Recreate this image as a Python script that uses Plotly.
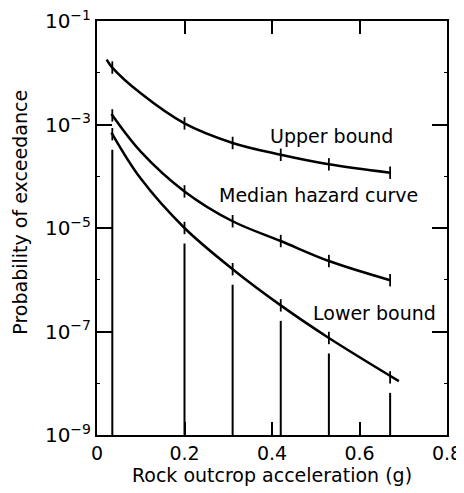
import math
import plotly.graph_objects as go

# Data
accel = [0.035, 0.2, 0.31, 0.42, 0.53, 0.67]
upper = [1.26e-2, 1.05e-3, 4.4e-4, 2.6e-4, 1.7e-4, 1.17e-4]
median = [1.5e-3, 5.1e-5, 1.35e-5, 5.6e-6, 2.3e-6, 9.8e-7]
lower = [6.5e-4, 1.0e-5, 1.6e-6, 3.2e-7, 7.5e-8, 1.3e-8]

upper_curve_x = [0.022, 0.035, 0.1, 0.2, 0.31, 0.42, 0.53, 0.67]
upper_curve_y = [1.8e-2, 1.26e-2, 4.0e-3, 1.05e-3, 4.4e-4, 2.6e-4, 1.7e-4, 1.17e-4]
median_curve_x = [0.033, 0.1, 0.2, 0.31, 0.42, 0.53, 0.67]
median_curve_y = [1.6e-3, 3.0e-4, 5.1e-5, 1.35e-5, 5.6e-6, 2.3e-6, 9.8e-7]
lower_curve_x = [0.033, 0.1, 0.2, 0.31, 0.42, 0.53, 0.69]
lower_curve_y = [7.0e-4, 9.0e-5, 1.0e-5, 1.6e-6, 3.2e-7, 7.5e-8, 1.1e-8]

y_tickvals = [1e-1, 1e-3, 1e-5, 1e-7, 1e-9]
y_ticktext = ["10<sup>\u22121</sup>", "10<sup>\u22123</sup>", "10<sup>\u22125</sup>",
              "10<sup>\u22127</sup>", "10<sup>\u22129</sup>"]
x_tickvals = [0, 0.2, 0.4, 0.6, 0.8]
x_ticktext = ["0", "0.2", "0.4", "0.6", "0.8"]

labels = ["Upper bound", "Median hazard curve", "Lower bound"]
label_x = [0.535, 0.506, 0.635]
label_y = [5.9e-4, 4.4e-5, 2.3e-7]

FONT = "DejaVu Sans"
y_floor = 1e-9
fig = go.Figure()

for cx, cy in [(upper_curve_x, upper_curve_y), (median_curve_x, median_curve_y),
               (lower_curve_x, lower_curve_y)]:
    fig.add_trace(go.Scatter(x=cx, y=cy, mode="lines",
                             line=dict(color="black", width=2.5, shape="spline", smoothing=1.0),
                             showlegend=False, hoverinfo="skip"))

# small error-bar ticks on each curve
tx, ty = [], []
f = 10 ** 0.12
for series in (upper, median, lower):
    for xv, yv in zip(accel, series):
        tx += [xv, xv, None]
        ty += [yv / f, yv * f, None]
fig.add_trace(go.Scatter(x=tx, y=ty, mode="lines", line=dict(color="black", width=1.8),
                         showlegend=False, hoverinfo="skip"))

# drop lines from lower bound down to axis
dx, dy = [], []
g = 10 ** 0.3
for xv, yv in zip(accel, lower):
    dx += [xv, xv, None]
    dy += [y_floor, yv / g, None]
fig.add_trace(go.Scatter(x=dx, y=dy, mode="lines", line=dict(color="black", width=2),
                         showlegend=False, hoverinfo="skip"))

for t, lx, ly in zip(labels, label_x, label_y):
    fig.add_annotation(x=lx, y=math.log10(ly), yref="y", xref="x", text=t, showarrow=False,
                       font=dict(size=19, color="black", family=FONT))

# y-axis title as an annotation for precise placement
fig.add_annotation(x=0, y=0.537, xref="paper", yref="paper", xshift=-77,
                   text="Probability of exceedance", textangle=-90, showarrow=False,
                   xanchor="center", yanchor="middle",
                   font=dict(size=19, color="black", family=FONT))

fig.update_layout(
    width=464, height=493,
    margin=dict(l=89, r=25, t=13, b=66),
    plot_bgcolor="white", paper_bgcolor="white",
    font=dict(family=FONT, size=19, color="black"),
    showlegend=False,
)
fig.update_xaxes(range=[0, 0.8], tickvals=x_tickvals, ticktext=x_ticktext,
                 ticks="inside", ticklen=13, tickwidth=2, tickcolor="black",
                 showline=True, linecolor="black", linewidth=2, mirror="ticks",
                 showgrid=False, zeroline=False, automargin=False,
                 title=dict(text="Rock outcrop acceleration (g)", standoff=6,
                            font=dict(size=19)),
                 tickfont=dict(size=19))
fig.update_yaxes(type="log", range=[-9, -1], tickvals=y_tickvals, ticktext=y_ticktext,
                 ticks="inside", ticklen=15, tickwidth=2, tickcolor="black",
                 showline=True, linecolor="black", linewidth=2, mirror="ticks",
                 showgrid=False, zeroline=False, automargin=False,
                 ticklabeloverflow="allow",
                 minor=dict(tickvals=[1e-2, 1e-4, 1e-6, 1e-8], ticks="inside", ticklen=3,
                            tickcolor="black", tickwidth=1),
                 tickfont=dict(size=20))

fig.write_html("out.html")
